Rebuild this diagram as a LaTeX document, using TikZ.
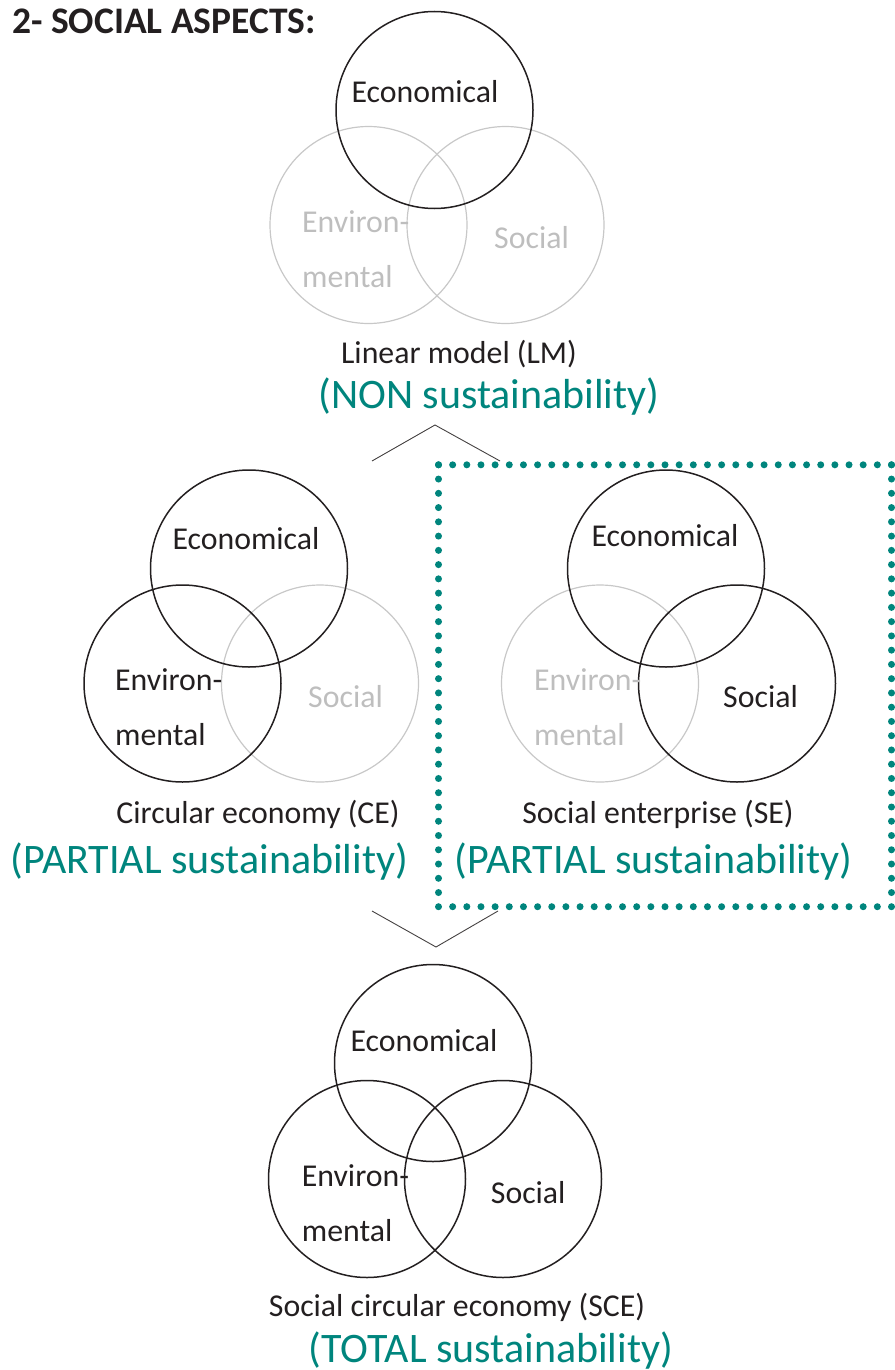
\documentclass[tikz,border=0pt]{standalone}
\usepackage{fontspec}
\setmainfont{Carlito}
\definecolor{teal2}{HTML}{00857D}
\definecolor{ink}{HTML}{231F20}
\definecolor{faint}{HTML}{C8C8C8}
\definecolor{fainttext}{HTML}{BEBEBE}
\begin{document}
\begin{tikzpicture}[x=1pt,y=-1pt,
  ring/.style={circle, draw=ink, line width=1.5pt, minimum size=197pt, inner sep=0pt},
  ghost/.style={circle, draw=faint, line width=1.2pt, minimum size=197pt, inner sep=0pt},
  lbl/.style={anchor=base, inner sep=0pt, text=ink, font=\fontsize{31.8}{36}\selectfont},
  lblw/.style={lbl, anchor=base west},
  glbl/.style={lblw, text=fainttext},
  sustain/.style={anchor=base, inner sep=0pt, text=teal2, font=\fontsize{42}{48}\selectfont},
  chev/.style={draw=ink!85, line width=0.9pt},
  dotsh/.style={draw=teal2, line width=7pt, line cap=round, dash pattern=on 0pt off 14.156pt},
  dotsv/.style={draw=teal2, line width=7pt, line cap=round, dash pattern=on 0pt off 14.258pt}
]
\useasboundingbox (0,0) rectangle (894,1370);

% title
\node[anchor=base west, inner sep=0pt, text=ink, font=\bfseries\fontsize{37.5}{42}\selectfont] (title) at (12,34) {2- SOCIAL ASPECTS:};

% ---------- Linear model ----------
\node[ghost] (lmenv) at (368.5,225) {};
\node[ghost] (lmsoc) at (505.5,225) {};
\node[ring]  (lmeco) at (434.5,110) {};
\node[lbl]  (lmecot) at (425,103) {Economical};
\node[glbl] (lmenvt) at (302,232.5) {Environ-};
\node[glbl] (lmment) at (302,287) {mental};
\node[glbl] (lmsoct) at (494,248.5) {Social};
\node[lbl]  (lmname) at (459,363.5) {Linear model (LM)};
\node[sustain] (lmsus) at (489,408.5) {(NON sustainability)};

% top chevron
\coordinate (c1l) at (372,461);
\coordinate (c1m) at (435,425);
\coordinate (c1r) at (500,461);
\draw[chev] (c1l) -- (c1m) -- (c1r);

% ---------- Circular economy ----------
\node[ghost] (cesoc) at (320,683.5) {};
\node[ring]  (ceeco) at (249,568.5) {};
\node[ring]  (ceenv) at (182.5,683.5) {};
\node[lbl]  (ceecot) at (246,549.5) {Economical};
\node[lblw] (ceenvt) at (115,690.7) {Environ-};
\node[lblw] (cement) at (115,745) {mental};
\node[glbl] (cesoct) at (308,707) {Social};
\node[lbl]  (cename) at (258,823) {Circular economy (CE)};
\node[sustain] (cesus) at (209.5,873.3) {(PARTIAL sustainability)};

% ---------- Social enterprise ----------
\node[ghost] (seenv) at (600,683.5) {};
\node[ring]  (seeco) at (666,568.5) {};
\node[ring]  (sesoc) at (737,683.5) {};
\node[lbl]  (seecot) at (665,546.7) {Economical};
\node[glbl] (seenvt) at (534,690.7) {Environ-};
\node[glbl] (sement) at (534,745) {mental};
\node[lblw] (sesoct) at (723,707) {Social};
\node[lbl]  (sename) at (658,823) {Social enterprise (SE)};
\node[sustain] (sesus) at (653.5,873.3) {(PARTIAL sustainability)};

% dotted frame
\coordinate (fa) at (438.5,464.8);
\coordinate (fb) at (891.5,464.8);
\coordinate (fc) at (891.5,906.7);
\coordinate (fd) at (438.5,906.7);
\draw[dotsh] (fa) -- (fb);
\draw[dotsh] (fd) -- (fc);
\draw[dotsv] (fa) -- (fd);
\draw[dotsv] (fb) -- (fc);

% bottom chevron
\coordinate (c2l) at (372,911);
\coordinate (c2m) at (436,947);
\coordinate (c2r) at (498,911);
\draw[chev] (c2l) -- (c2m) -- (c2r);

% ---------- Social circular economy ----------
\node[ring] (sceeco) at (433,1063) {};
\node[ring] (sceenv) at (367,1179) {};
\node[ring] (scesoc) at (503,1179) {};
\node[lbl]  (sceecot) at (424,1051.6) {Economical};
\node[lblw] (sceenvt) at (301.7,1186.7) {Environ-};
\node[lblw] (scement) at (301.7,1241) {mental};
\node[lblw] (scesoct) at (490.7,1203) {Social};
\node[lbl]  (scename) at (457,1316.5) {Social circular economy (SCE)};
\node[sustain] (scesus) at (491,1362) {(TOTAL sustainability)};
\end{tikzpicture}
\end{document}
